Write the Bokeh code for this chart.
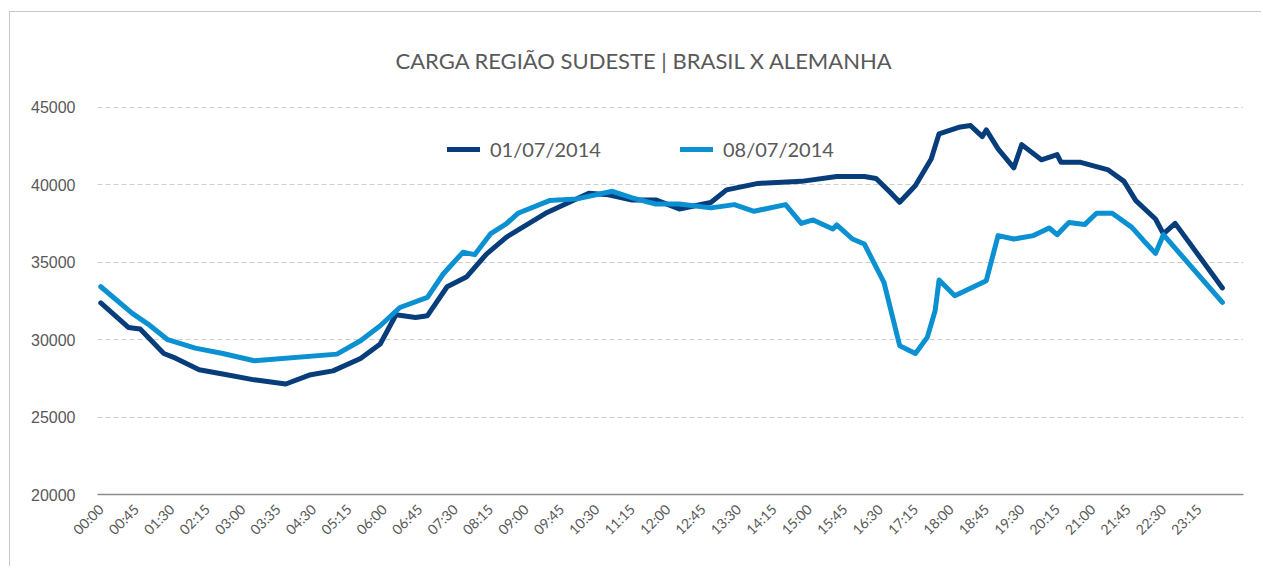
from math import pi
from bokeh.plotting import figure
from bokeh.models import FixedTicker, Legend, LegendItem, Range1d, Title
from bokeh.embed import file_html
from bokeh.resources import INLINE

title_text = "CARGA REGIÃO SUDESTE | BRASIL X ALEMANHA"
series_names = ["01/07/2014", "08/07/2014"]
tick_labels = ["00:00", "00:45", "01:30", "02:15", "03:00", "03:35", "04:30", "05:15",
               "06:00", "06:45", "07:30", "08:15", "09:00", "09:45", "10:30", "11:15",
               "12:00", "12:45", "13:30", "14:15", "15:00", "15:45", "16:30", "17:15",
               "18:00", "18:45", "19:30", "20:15", "21:00", "21:45", "22:30", "23:15"]
y_ticks = [20000, 25000, 30000, 35000, 40000, 45000]

# 01/07/2014 (dark)
times_0107 = ["00:00", "00:35", "00:50", "01:20", "01:35", "02:05", "02:40", "03:15", "03:55",
              "04:25", "04:55", "05:30", "05:55", "06:15", "06:40", "06:55", "07:20", "07:45",
              "08:10", "08:35", "09:25", "10:20", "10:45", "11:15", "11:45", "12:15", "12:55",
              "13:15", "13:55", "14:50", "15:35", "16:10", "16:25", "16:45", "16:55", "17:15",
              "17:35", "17:45", "18:10", "18:25", "18:40", "18:45", "19:00", "19:20", "19:30",
              "19:55", "20:15", "20:20", "20:45", "21:20", "21:40", "21:55", "22:20", "22:30",
              "22:45", "23:45"]
load_0107 = [32360, 30780, 30680, 29100, 28800, 28050, 27730, 27400, 27130,
             27710, 27980, 28780, 29710, 31600, 31430, 31540, 33410, 34060,
             35520, 36600, 38150, 39440, 39350, 39010, 39010, 38430, 38850,
             39660, 40080, 40210, 40520, 40520, 40390, 39400, 38860, 39940,
             41660, 43280, 43700, 43810, 43100, 43530, 42310, 41080, 42580,
             41600, 41940, 41440, 41440, 40950, 40210, 38970, 37780, 36820,
             37500, 33330]

# 08/07/2014 (light)
times_0807 = ["00:00", "00:40", "01:00", "01:25", "02:00", "02:35", "03:15", "05:00", "05:30",
              "05:55", "06:20", "06:55", "07:15", "07:40", "07:55", "08:15", "08:35", "08:50",
              "09:30", "10:05", "10:50", "11:15", "11:45", "12:15", "12:55", "13:25", "13:50",
              "14:30", "14:50", "15:05", "15:30", "15:35", "15:55", "16:10", "16:35", "16:55",
              "17:15", "17:30", "17:40", "17:45", "18:05", "18:45", "19:00", "19:20", "19:45",
              "20:05", "20:15", "20:30", "20:50", "21:05", "21:25", "21:50", "22:05", "22:20",
              "22:30", "23:45"]
load_0807 = [33410, 31690, 31000, 29990, 29450, 29100, 28630, 29060, 29920,
             30890, 32070, 32720, 34230, 35630, 35480, 36820, 37460, 38150,
             38970, 39080, 39570, 39140, 38750, 38750, 38500, 38710, 38280,
             38710, 37500, 37720, 37140, 37400, 36490, 36170, 33690, 29600,
             29100, 30140, 31860, 33840, 32830, 33800, 36710, 36490, 36710,
             37200, 36770, 37560, 37420, 38150, 38150, 37240, 36380, 35560,
             36770, 32400]


def to_minutes(t):
    return int(t[:2]) * 60 + int(t[3:])


x_0107 = [to_minutes(t) for t in times_0107]
x_0807 = [to_minutes(t) for t in times_0807]
tick_pos = [45 * i for i in range(len(tick_labels))]

TEXT = "#595959"
DARK = "#073d7b"
LIGHT = "#0b90d1"

p = figure(width=1252, height=555, x_range=Range1d(-4.2, 1451.8), y_range=Range1d(20000, 45300),
           output_backend="svg", toolbar_location=None,
           min_border_left=87, min_border_right=19, min_border_top=90, min_border_bottom=73)
p.outline_line_color = None
p.styles = {"border-left": "1px solid #c8c8c8", "border-top": "1px solid #c8c8c8",
            "margin-top": "11px", "margin-left": "9px"}

p.xgrid.visible = False
p.ygrid.ticker = FixedTicker(ticks=y_ticks)
p.ygrid.grid_line_color = "#cccccc"
p.ygrid.grid_line_dash = "5 3"
p.ygrid.grid_line_width = 1

p.yaxis.ticker = FixedTicker(ticks=y_ticks)
p.yaxis.axis_line_color = None
p.yaxis.major_tick_line_color = None
p.yaxis.minor_tick_line_color = None
p.yaxis.major_label_standoff = 16
p.yaxis.major_label_text_font = "Liberation Sans"
p.yaxis.major_label_text_font_size = "16px"
p.yaxis.major_label_text_color = TEXT

p.xaxis.ticker = FixedTicker(ticks=tick_pos)
p.xaxis.major_label_overrides = {tp: lab for tp, lab in zip(tick_pos, tick_labels)}
p.xaxis.major_label_orientation = pi / 4
p.xaxis.axis_line_color = "#8c8c8c"
p.xaxis.axis_line_width = 1.5
p.xaxis.major_tick_line_color = None
p.xaxis.minor_tick_line_color = None
p.xaxis.major_label_standoff = 6
p.xaxis.major_label_text_font = "Lato"
p.xaxis.major_label_text_font_size = "14px"
p.xaxis.major_label_text_color = TEXT

r1 = p.line(x_0107, load_0107, line_color=DARK, line_width=5, line_join="round", line_cap="round")
r2 = p.line(x_0807, load_0807, line_color=LIGHT, line_width=5, line_join="round", line_cap="round")

legend = Legend(items=[LegendItem(label=series_names[0], renderers=[r1]),
                       LegendItem(label=series_names[1], renderers=[r2])],
                orientation="horizontal", location=(350, 333),
                label_text_font="Lato", label_text_font_size="20px", label_text_color=TEXT,
                glyph_width=33, glyph_height=24, label_height=24, label_width=190,
                label_standoff=10, spacing=0, padding=0, margin=0,
                border_line_color=None, background_fill_alpha=0)
p.add_layout(legend)

p.add_layout(Title(text=title_text, align="left", offset=298, standoff=57,
                   text_font="Lato", text_font_style="normal", text_font_size="22px",
                   text_color=TEXT), "above")

open("out.html", "w").write(file_html(p, INLINE))
